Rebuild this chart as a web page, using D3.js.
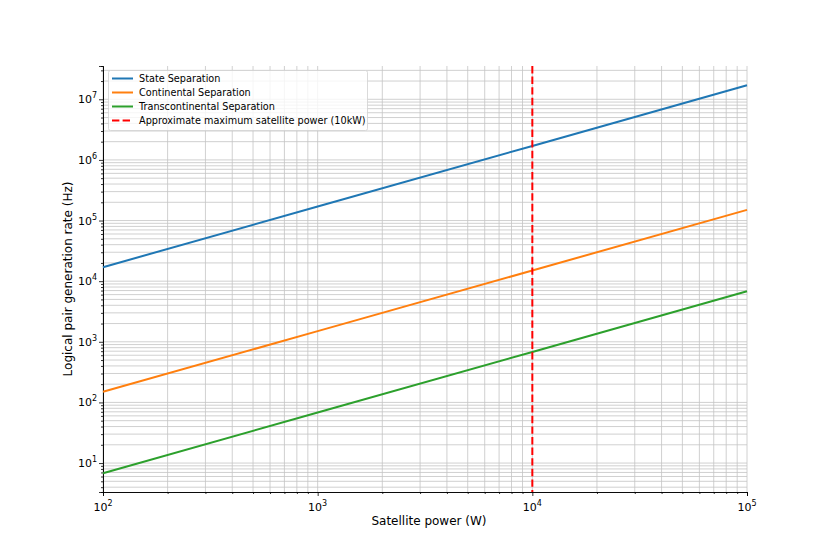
<!DOCTYPE html>
<html><head><meta charset="utf-8">
<script src="https://cdn.jsdelivr.net/npm/d3@7"></script>
<style>body{margin:0;background:#fff}text{font-family:"DejaVu Sans",sans-serif}</style>
</head><body><svg id="c" width="830" height="554"></svg>
<script>
const power = [100, 1000, 10000, 100000];
const stateSep = [1.7e4, 1.7e5, 1.7e6, 1.7e7];
const continentalSep = [150, 1500, 15000, 150000];
const transcontinentalSep = [6.8, 68, 680, 6800];
const maxPower = 10000;
const seriesNames = ["State Separation", "Continental Separation", "Transcontinental Separation"];
const maxLabel = "Approximate maximum satellite power (10kW)";
const xTickExps = [2, 3, 4, 5];
const yTickExps = [1, 2, 3, 4, 5, 6, 7];

const svg = d3.select("#c");
const L = 103, R = 747, T = 66, B = 492;
const x = d3.scaleLog().domain([100, 1e5]).range([L, R]);
const y = d3.scaleLog().domain([3.33, 3.54e7]).range([B, T]);

const g = svg.append("g");
// grid
const xMinor = [], yMinor = [];
for (let e = 2; e < 5; e++) for (let m = 2; m <= 9; m++) xMinor.push(m * Math.pow(10, e));
for (let e = 0; e < 8; e++) for (let m = 1; m <= 9; m++) { const v = m * Math.pow(10, e); if (v >= 3.33 && v <= 3.54e7) yMinor.push(v); }
g.selectAll(".gx").data(xMinor.concat(xTickExps.map(e => Math.pow(10, e)))).enter().append("line")
  .attr("x1", d => x(d)).attr("x2", d => x(d)).attr("y1", T).attr("y2", B)
  .attr("stroke", "#c4c4c4").attr("stroke-width", 0.8);
g.selectAll(".gy").data(yMinor).enter().append("line")
  .attr("y1", d => y(d)).attr("y2", d => y(d)).attr("x1", L).attr("x2", R)
  .attr("stroke", "#c4c4c4").attr("stroke-width", 0.8);

// axes
const xAxis = d3.axisBottom(x).tickValues(xTickExps.map(e => Math.pow(10, e))).tickFormat("").tickSize(4);
const xAxisMinor = d3.axisBottom(x).tickValues(xMinor).tickFormat("").tickSize(2);
const yAxis = d3.axisLeft(y).tickValues(yTickExps.map(e => Math.pow(10, e))).tickFormat("").tickSize(4);
const yAxisMinor = d3.axisLeft(y).tickValues(yMinor.filter(v => !yTickExps.map(e => Math.pow(10, e)).includes(v))).tickFormat("").tickSize(2);
[["translate(0," + B + ")", xAxis], ["translate(0," + B + ")", xAxisMinor], ["translate(" + L + ",0)", yAxis], ["translate(" + L + ",0)", yAxisMinor]].forEach(([tr, ax]) => {
  const a = svg.append("g").attr("transform", tr).call(ax);
  a.select(".domain").attr("stroke", "#000").attr("stroke-width", 0.8);
  a.selectAll(".tick line").attr("stroke", "#000").attr("stroke-width", 0.8);
});
// tick labels
xTickExps.forEach(e => {
  const t = svg.append("text").attr("x", x(Math.pow(10, e))).attr("y", B + 19).attr("text-anchor", "middle").attr("font-size", 11);
  t.append("tspan").text("10");
  t.append("tspan").attr("dy", -5).attr("font-size", 8).text(e);
});
yTickExps.forEach(e => {
  const t = svg.append("text").attr("x", L - 6).attr("y", y(Math.pow(10, e)) + 4).attr("text-anchor", "end").attr("font-size", 11);
  t.append("tspan").text("10");
  t.append("tspan").attr("dy", -5).attr("font-size", 8).text(e);
});
svg.append("text").attr("x", (L + R) / 2 + 4).attr("y", 525).attr("text-anchor", "middle").attr("font-size", 12).text("Satellite power (W)");
svg.append("text").attr("transform", `translate(72,${(T + B) / 2}) rotate(-90)`).attr("text-anchor", "middle").attr("font-size", 12).text("Logical pair generation rate (Hz)");

// lines
const colors = ["#1f77b4", "#ff7f0e", "#2ca02c"];
const series = [stateSep, continentalSep, transcontinentalSep];
const line = d3.line().x((d, i) => x(power[i])).y(d => y(d));
series.forEach((s, i) => {
  svg.append("path").datum(s).attr("d", line).attr("fill", "none").attr("stroke", colors[i]).attr("stroke-width", 2);
});
svg.append("line").attr("x1", x(maxPower)).attr("x2", x(maxPower)).attr("y1", T).attr("y2", B)
  .attr("stroke", "red").attr("stroke-width", 2).attr("stroke-dasharray", "7.4,3.2");

// legend
const lg = svg.append("g");
lg.append("rect").attr("x", 108.5).attr("y", 70.5).attr("width", 259).attr("height", 60).attr("rx", 2)
  .attr("fill", "#fff").attr("fill-opacity", 0.8).attr("stroke", "#d0d0d0").attr("stroke-width", 0.8);
const items = seriesNames.map((n, i) => ({ n, c: colors[i], dash: null })).concat([{ n: maxLabel, c: "red", dash: "7.4,3.2" }]);
items.forEach((it, i) => {
  const yy = 78.5 + i * 14;
  lg.append("line").attr("x1", 112).attr("x2", 133).attr("y1", yy).attr("y2", yy).attr("stroke", it.c).attr("stroke-width", 2)
    .attr("stroke-dasharray", it.dash);
  lg.append("text").attr("x", 139).attr("y", yy + 3.5).attr("font-size", 9.7).text(it.n);
});
</script></body></html>
